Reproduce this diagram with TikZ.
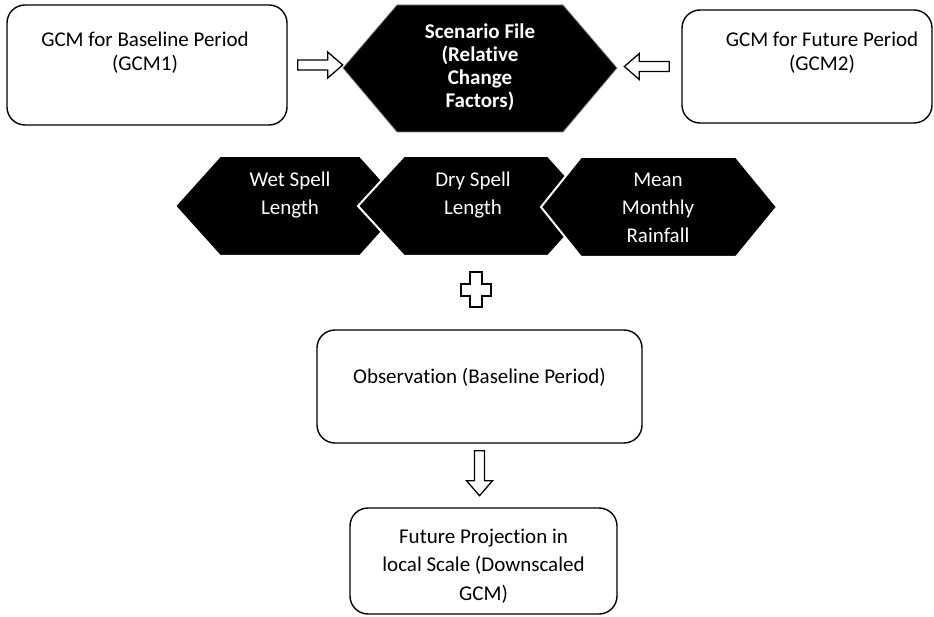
\documentclass[tikz,border=0pt]{standalone}
\usepackage{fontspec}
\setmainfont[Ligatures=NoCommon]{Carlito}
\usetikzlibrary{calc}

\tikzset{
  gcmbox/.style={draw, line width=1.4pt, rounded corners=18pt},
  boxtext/.style={align=center, font=\fontsize{21}{24}\selectfont},
  scentext/.style={align=center, text=white, font=\fontsize{21}{23}\selectfont\bfseries},
  spelltext/.style={align=center, text=white, font=\fontsize{21}{28}\selectfont},
  hexa/.style={fill=black, draw=white, line width=2pt},
  hollowarrow/.pic={
    \draw[line width=1.3pt, fill=white] (0,-5) -- (30,-5) -- (30,-13) -- (45,0)
      -- (30,13) -- (30,5) -- (0,5) -- cycle;
  }
}

\begin{document}
\begin{tikzpicture}[x=1pt,y=-1pt]
    \useasboundingbox (0,0) rectangle (934,617);
    % top row
    \node[gcmbox, minimum width=280pt, minimum height=120pt] (gcmA) at (147,65) {};
    \node[boxtext] (gcmAtext) at ($(gcmA)+(-2,-12)$) {GCM for Baseline Period\\(GCM1)};
    \node[gcmbox, minimum width=250pt, minimum height=113pt] (gcmB) at (807,66.5) {};
    \node[boxtext] (gcmBtext) at ($(gcmB)+(15,-14)$) {GCM for Future Period\\(GCM2)};
    \draw[fill=black, draw=gray, line width=0.8pt] (343,68) -- (397,5) -- (563,5) -- (617,68) -- (563,132) -- (397,132) -- cycle;
    \node[scentext] (scen) at (480,67) {Scenario File\\(Relative\\Change\\Factors)};
    \pic at ($(gcmA.east)+(10,0)$) {hollowarrow};
    \pic[rotate=180] at ($(gcmB.west)+(-12,0)$) {hollowarrow};
    % change factors
    \draw[hexa] (175,206) -- (220,156) -- (360,156) -- (405,206) -- (360,256) -- (220,256) -- cycle;
    \draw[hexa] (358,206) -- (404,156) -- (548,156) -- (593,206) -- (548,256) -- (404,256) -- cycle;
    \draw[hexa] (541,207) -- (581,157) -- (736,157) -- (777,207) -- (736,257) -- (581,257) -- cycle;
    \node[spelltext] (wet) at (290,195) {Wet Spell\\Length};
    \node[spelltext] (dry) at (473,195) {Dry Spell\\Length};
    \node[spelltext] (mean) at (658,208) {Mean\\Monthly\\Rainfall};
    % plus
    \draw[line width=1.3pt, fill=white] (470,272) -- (482,272) -- (482,284) -- (491,284) -- (491,296) -- (482,296)
      -- (482,307) -- (470,307) -- (470,296) -- (461,296) -- (461,284) -- (470,284) -- cycle;
    % observation and projection
    \node[gcmbox, minimum width=325pt, minimum height=113pt] (obs) at (479.5,386.5) {};
    \node[boxtext] (obstext) at ($(obs)+(0,-9)$) {Observation (Baseline Period)};
    \node[gcmbox, minimum width=267pt, minimum height=106pt] (proj) at (483.5,561) {};
    \node[align=center, font=\fontsize{21}{28.5}\selectfont] (projtext) at ($(proj)+(0,5)$) {Future Projection in\\local Scale (Downscaled\\GCM)};
    \pic[rotate=-90] at ($(obs.south)+(0,7)$) {hollowarrow};
\end{tikzpicture}
\end{document}
